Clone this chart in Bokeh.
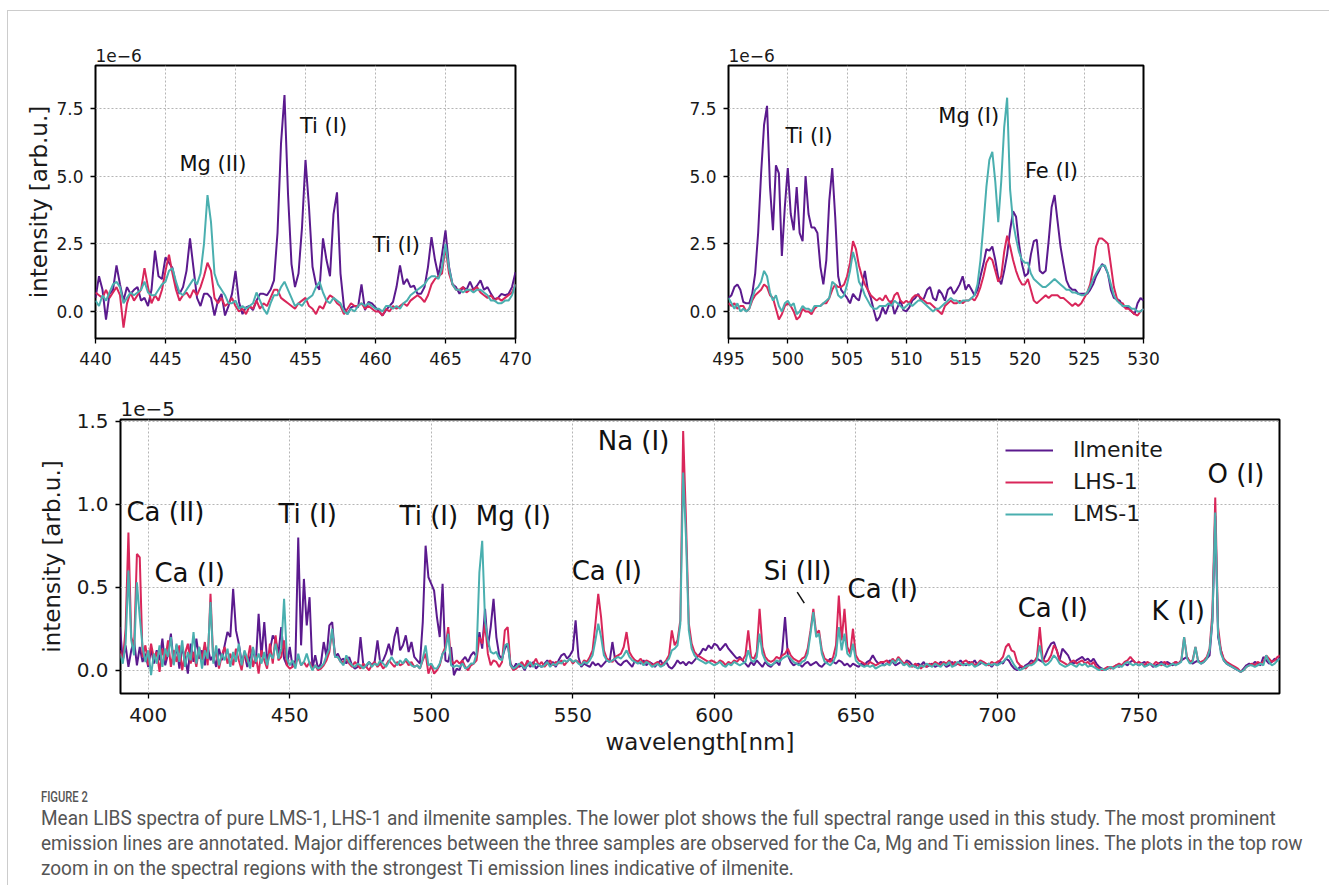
import numpy as np
from bokeh.plotting import figure
from bokeh.models import (ColumnDataSource, Label, Legend, LegendItem, FixedTicker,
                          PrintfTickFormatter, Range1d, Div, Arrow, Title, Spacer)
from bokeh.layouts import column, row
from bokeh.embed import file_html
from bokeh.resources import INLINE

FONT = "DejaVu Sans"
C_ILM = "#5b1a8e"
C_LHS = "#d9265a"
C_LMS = "#4aafaf"
SERIES = ["Ilmenite", "LHS-1", "LMS-1"]

# ---------------- top-left panel: 440-470 nm, step 0.25 nm, intensity in 1e-6 ----------------
TL_START, TL_STEP = 440.0, 0.25
TL_ILM = [
    0.5, 1.3, 0.8, -0.3,   0.65, 0.8, 1.7, 1.0,   0.4, 0.9, 0.65, 0.8,   0.9, 0.4, 0.5, 0.2,
    0.8, 2.25, 1.3, 1.2,   2.0, 1.8, 1.6, 1.0,   0.65, 0.9, 1.5, 2.7,   1.6, 0.5, 0.2, 0.65,
    0.65, 0.5, -0.15, 0.4, 0.65, -0.15, 0.2, 0.65, 1.5, 0.35, -0.1, 0.15, 0.2, 0.05, 0.4, 0.65,
    0.65, 0.6, 0.8, 1.15,  2.9, 6.2, 8.0, 4.35,  1.75, 0.9, 1.4, 3.1,   5.6, 3.85, 1.65, 1.0,
    0.8, 2.7, 1.9, 1.3,    3.6, 4.4, 1.4, 0.15,  -0.1, 0.15, 0.2, 0.15, 1.0, 0.05, 0.35, 0.3,
    0.15, 0.0, -0.15, 0.05, 0.2, 0.35, 0.9, 1.7, 1.0, 1.2, 0.9, 0.95,  0.65, 0.65, 0.9, 1.65,
    2.75, 1.9, 1.3, 2.1,   3.0, 1.65, 1.0, 0.9,  0.65, 0.9, 0.8, 1.1,  0.8, 0.95, 1.15, 0.8,
    0.9, 0.65, 0.45, 0.5,  0.65, 0.6, 0.65, 0.9, 1.45]
TL_LHS = [
    0.7, 0.6, 0.5, 0.8,   0.5, 0.7, 0.9, 0.6,   -0.6, 0.3, 0.7, 0.4,  0.6, 0.8, 1.6, 0.9,
    0.3, 0.6, 0.4, 0.8,   1.5, 2.1, 1.4, 0.8,   0.4, 0.6, 0.7, 0.5,   0.8, 0.6, 0.9, 1.3,
    1.8, 1.5, 0.5, 0.3,   0.5, 0.2, 0.3, 0.5,   0.2, 0.0, 0.1, -0.1,  0.2, 0.1, 0.4, 0.1,
    0.3, 0.2, 0.5, 0.8,   0.8, 0.5, 0.4, 0.3,   0.2, 0.1, 0.3, 0.4,   0.5, 0.2, 0.1, -0.1,
    0.2, 0.1, 0.4, 0.6,   0.5, 0.3, 0.2, -0.1,  0.1, 0.3, 0.2, 0.2,   0.3, 0.1, 0.2, 0.1,
    0.0, 0.0, -0.15, 0.1, 0.0, 0.2, 0.1, 0.2,   0.3, 0.2, 0.4, 0.5,   0.6, 0.5, 0.35, 0.6,
    1.0, 1.2, 1.3, 1.4,   2.4, 1.4, 1.0, 0.8,   0.8, 0.9, 0.7, 0.8,   0.8, 0.9, 0.7, 0.6,
    0.5, 0.6, 0.4, 0.5,   0.4, 0.5, 0.6, 0.7,   1.0]
TL_LMS = [
    0.4, 0.2, 0.6, 0.4,   0.7, 1.0, 1.1, 0.9,   0.3, 0.5, 0.7, 0.6,   0.7, 0.8, 1.1, 0.7,
    0.6, 0.6, 0.8, 1.0,   1.1, 1.5, 1.6, 1.1,   0.7, 0.6, 0.8, 1.0,   1.2, 1.0, 1.4, 2.5,
    4.3, 3.3, 1.4, 1.0,   0.8, 0.6, 0.3, 0.3,   0.4, 0.1, 0.2, 0.1,   0.2, 0.3, 0.7, 0.4,
    0.1, -0.1, 0.3, 0.6,  0.6, 0.9, 1.1, 0.8,   0.5, 0.2, 0.3, 0.2,   0.4, 0.5, 0.6, 0.9,
    1.1, 0.7, 0.4, 0.3,   0.5, 0.4, 0.3, 0.0,   -0.1, 0.1, 0.0, 0.2,  0.3, 0.2, 0.3, 0.2,
    0.1, 0.1, 0.0, 0.2,   0.2, 0.1, 0.2, 0.1,   0.3, 0.4, 0.6, 0.7,   0.8, 0.9, 1.0, 1.2,
    1.3, 1.3, 1.2, 1.6,   2.5, 1.6, 1.0, 0.8,   0.8, 0.7, 0.8, 0.8,   0.7, 0.8, 0.8, 0.7,
    0.6, 0.4, 0.4, 0.3,   0.3, 0.4, 0.4, 0.6,   1.0]

# ---------------- top-right panel: 495-530 nm, step 0.25 nm, intensity in 1e-6 ----------------
TR_START, TR_STEP = 495.0, 0.25
TR_ILM = [
    0.5, 0.6, 0.9, 1.0,   0.8, 0.35, 0.3, 0.3,  0.65, 1.4, 2.9, 5.1,  6.9, 7.6, 4.6, 3.0,
    5.4, 5.1, 2.05, 3.85, 5.3, 3.6, 3.0, 4.6,   2.9, 2.6, 5.0, 3.6,   3.1, 3.1, 2.9, 1.65,
    1.0, 1.9, 4.1, 5.3,   3.5, 1.3, 0.8, 0.65,  0.5, 0.3, 0.65, 0.5,  0.4, 0.9, 1.5, 0.8,
    0.5, 0.05, -0.35, -0.2, 0.15, -0.1, 0.2, 0.4, -0.1, 0.15, 0.4, 0.05, 0.0, 0.15, 0.4, 0.5,
    0.65, 0.4, 0.5, 0.8,  0.9, 0.5, 0.4, 0.8,   0.65, 0.4, 0.8, 0.9,  0.65, 0.8, 1.0, 1.3,
    0.8, 1.0, 0.8, 0.6,   0.8, 1.3, 1.75, 2.3,  2.25, 2.4, 1.9, 1.25, 1.0, 1.5, 2.1, 3.0,
    3.7, 3.5, 2.5, 1.75,  1.3, 1.4, 2.1, 2.6,   2.65, 1.5, 1.4, 1.5,  2.6, 3.85, 4.3, 3.35,
    2.4, 1.75, 1.15, 0.9, 0.8, 0.8, 0.65, 0.65, 0.65, 0.65, 0.8, 1.0, 1.3, 1.5, 1.75, 1.65,
    1.4, 0.8, 0.5, 0.45,  0.4, 0.2, 0.15, 0.15, 0.0, -0.1, 0.3, 0.5,  0.4]
TR_LHS = [
    0.3, 0.2, 0.3, 0.1,   0.2, 0.2, 0.0, 0.1,   0.4, 0.6, 0.7, 0.8,   1.0, 0.9, 0.6, 0.5,
    0.1, -0.3, -0.1, 0.2, 0.3, 0.2, 0.0, -0.3,  -0.2, 0.1, 0.0, 0.0,  -0.1, 0.1, 0.2, 0.2,
    0.3, 0.3, 0.5, 0.8,   1.0, 0.9, 0.9, 1.0,   1.3, 1.8, 2.6, 2.3,   1.7, 1.3, 1.0, 0.8,
    0.6, 0.5, 0.4, 0.5,   0.4, 0.6, 0.4, 0.3,   0.6, 0.7, 0.4, 0.3,   0.4, 0.3, 0.5, 0.6,
    0.6, 0.5, 0.4, 0.3,   0.3, 0.2, 0.1, 0.0,   -0.1, 0.2, 0.3, 0.4,  0.3, 0.3, 0.4, 0.3,
    0.4, 0.4, 0.5, 0.4,   0.6, 0.9, 1.3, 1.8,   2.0, 1.9, 1.5, 1.1,   1.3, 2.2, 2.8, 2.4,
    1.9, 1.5, 1.2, 1.0,   1.0, 1.2, 0.8, 0.4,   0.3, 0.4, 0.5, 0.6,   0.5, 0.6, 0.6, 0.6,
    0.5, 0.5, 0.4, 0.3,   0.2, 0.3, 0.2, 0.3,   0.5, 0.7, 1.0, 1.6,   2.4, 2.7, 2.7, 2.6,
    2.5, 1.7, 0.9, 0.5,   0.3, 0.3, 0.1, 0.1,   0.0, -0.1, -0.15, 0.0, 0.1]
TR_LMS = [
    0.5, 0.3, 0.1, 0.3,   0.0, 0.1, 0.0, 0.1,   0.5, 0.8, 0.9, 1.1,   1.5, 1.3, 0.7, 0.4,
    0.6, 0.2, 0.0, 0.3,   0.4, 0.2, 0.3, -0.1,  0.0, 0.2, 0.1, 0.1,   0.0, 0.2, 0.2, 0.2,
    0.3, 0.4, 0.5, 1.1,   1.0, 0.6, 0.5, 0.6,   1.0, 1.5, 2.2, 1.8,   1.1, 0.9, 0.6, 0.4,
    0.2, 0.1, 0.1, 0.2,   0.2, 0.2, 0.3, 0.2,   0.4, 0.3, 0.2, 0.1,   0.2, 0.3, 0.2, 0.3,
    0.4, 0.4, 0.3, 0.2,   0.1, 0.0, 0.1, 0.1,   0.2, 0.3, 0.4, 0.5,   0.4, 0.4, 0.3, 0.4,
    0.4, 0.4, 0.5, 0.6,   1.0, 1.9, 3.2, 4.6,   5.6, 5.9, 4.8, 3.3,   4.8, 6.8, 7.9, 4.5,
    3.3, 2.7, 2.2, 1.9,   1.8, 1.8, 1.4, 1.2,   1.1, 1.0, 0.9, 0.9,   1.0, 1.1, 1.2, 1.1,
    1.0, 0.9, 0.8, 0.8,   0.7, 0.7, 0.65, 0.6,  0.6, 0.7, 0.9, 1.2,   1.4, 1.6, 1.7, 1.7,
    1.4, 1.0, 0.6, 0.4,   0.3, 0.2, 0.2, 0.2,   0.1, 0.1, 0.0, 0.0,   0.1]

# ---------------- bottom panel: 390-800 nm, step 1 nm, intensity in 1e-6 ----------------
B_START, B_STEP = 390.0, 1.0
B_ILM = [
    2.6, 0.6, 1.5, 0.2, 1.2, 1.8, 0.3, 1.4, 0.5, 1.0,
    0.2, 1.3, 0.4, 1.2, 0.6, 1.9, 0.3, 1.0, 2.2, 0.4,
    1.5, 0.1, 1.3, 0.8, -0.2, 1.6, 0.5, 1.9, 0.7, 1.2,
    0.3, 1.4, 0.6, 0.9, 0.2, 1.3, 0.6, 1.5, 2.3, 2.0,
    4.9, 2.4, 1.6, 0.5, 1.0, 0.2, 0.8, 1.3, 0.4, 3.4,
    0.8, 2.9, 0.6, 1.2, 2.1, 1.8, 1.0, 2.6, 0.7, 0.3,
    1.4, 0.2, 0.6, 8.0, 1.5, 5.5, 2.7, 4.4, 0.1, 0.9,
    0.1, 0.4, 1.7, 0.8, 2.7, 2.9, 0.8, 1.0, 0.6, 0.7,
    0.4, 0.8, 0.3, 0.1, 0.2, 2.0, 0.3, 0.2, 0.5, 0.3,
    0.5, 1.8, 0.4, 0.6, 1.0, 1.6, 0.9, 2.0, 2.6, 1.2,
    1.5, 2.1, 1.1, 1.7, 0.8, 0.6, 0.4, 2.9, 7.5, 5.6,
    5.2, 4.8, 3.2, 2.0, 5.2, 0.6, 0.5, 1.4, -0.3, 0.1,
    0.0, 0.6, 0.8, 0.5, 0.9, 1.1, 0.8, 2.3, 1.3, 3.7,
    1.4, 2.6, 4.3, 2.0, 0.9, 0.7, 1.3, 1.6, 0.4, 0.1,
    0.4, 0.2, 0.3, 0.0, 0.4, 0.2, 0.5, 0.1, 0.3, 0.2,
    0.4, 0.6, 0.3, 0.5, 0.2, 0.6, 0.9, 1.0, 0.7, 0.9,
    1.2, 3.0, 0.8, 0.2, 0.4, 0.3, 0.2, 0.5, 0.3, 0.4,
    0.2, 0.4, 0.6, 0.5, 1.7, 0.6, 0.4, 0.3, 0.5, 0.6,
    0.4, 0.2, 0.6, 0.5, 0.4, 0.6, 0.3, 0.5, 0.4, 0.2,
    0.4, 0.6, 0.3, 0.5, 0.2, 0.1, 0.3, 0.6, 0.4, 0.5,
    0.3, 0.5, 0.4, 0.6, 0.8, 1.0, 1.3, 1.2, 1.5, 1.3,
    1.6, 1.5, 1.2, 1.4, 1.6, 1.3, 1.1, 0.9, 0.7, 0.8,
    0.6, 0.4, 0.2, 0.5, 0.3, 0.6, 0.4, 0.2, 0.5, 0.3,
    0.2, 0.4, 0.5, 0.3, 1.2, 3.2, 0.9, 0.5, 0.3, 0.4,
    0.4, 0.2, 0.4, 0.5, 0.3, 0.4, 0.5, 0.3, 0.2, 0.4,
    0.5, 0.7, 0.5, 0.4, 0.6, 0.5, 0.3, 0.4, 0.2, 0.4,
    0.3, 0.2, 0.4, 0.3, 0.5, 0.6, 0.9, 0.6, 0.4, 0.5,
    0.3, 0.4, 0.6, 0.5, 0.3, 0.4, 0.5, 0.3, 0.6, 0.5,
    0.3, 0.2, 0.4, 0.3, 0.5, 0.2, 0.3, 0.4, 0.2, 0.3,
    0.5, 0.4, 0.2, 0.3, 0.5, 0.3, 0.4, 0.6, 0.4, 0.3,
    0.5, 0.4, 0.6, 0.3, 0.4, 0.5, 0.3, 0.4, 0.2, 0.4,
    0.3, 0.5, 0.4, 0.7, 0.6, 0.3, 0.1, 0.0, 0.2, 0.1,
    0.3, 0.4, 0.6, 0.5, 0.7, 0.6, 0.5, 0.9, 1.3, 1.6,
    1.7, 1.2, 0.6, 1.3, 1.1, 0.9, 0.5, 0.4, 0.6, 0.7,
    0.8, 0.6, 0.7, 0.5, 0.7, 0.4, 0.2, 0.1, 0.0, 0.1,
    0.2, 0.1, 0.3, 0.2, 0.3, 0.4, 0.3, 0.5, 0.6, 0.4,
    0.3, 0.4, 0.5, 0.3, 0.4, 0.2, 0.3, 0.4, 0.5, 0.3,
    0.5, 0.4, 0.3, 0.5, 0.4, 0.6, 0.7, 0.8, 0.5, 0.4,
    0.5, 0.6, 0.4, 0.5, 0.7, 0.9, 3.0, 9.3, 2.0, 1.2,
    0.6, 0.4, 0.3, 0.2, 0.1, 0.0, -0.1, 0.1, 0.3, 0.4,
    0.3, 0.5, 0.4, 0.3, 0.8, 0.6, 0.4, 0.5, 0.7, 0.6,
    0.8]
B_LHS = [
    1.2, 0.5, 2.5, 8.3, 2.0, 1.4, 7.0, 6.8, 0.8, 1.5,
    0.3, 1.6, 0.7, 1.1, -0.1, 1.3, 0.6, 1.8, 0.2, 1.2,
    0.5, 1.5, 0.0, 1.0, 1.6, 0.4, 1.1, 0.2, 1.4, 0.6,
    1.7, 0.3, 4.6, 0.5, 1.2, 0.1, 0.9, 1.4, 0.4, 1.0,
    0.3, 1.3, 0.6, 0.0, 1.1, 0.5, 1.5, 0.2, 0.9, -0.2,
    1.2, 0.6, 0.1, 1.6, 0.4, 2.1, 0.6, 0.8, 1.8, 0.3,
    0.1, 0.2, 0.4, 0.8, 0.3, 0.5, 0.2, 0.5, 0.1, 0.3,
    0.0, 0.1, 0.3, 0.6, 1.1, 2.4, 0.8, 0.8, 0.5, 0.5,
    0.7, 0.4, 0.2, 0.5, 0.3, 0.1, 0.4, 0.2, 0.0, 0.3,
    0.5, 0.2, 0.4, 0.1, 0.3, 0.6, 0.4, 0.2, 0.5, 0.3,
    0.4, 0.6, 0.3, 0.5, 0.2, 0.3, 0.1, 0.6, 1.0, -0.2,
    0.3, -0.2, 0.0, 0.3, 1.0, 1.4, 2.6, 0.6, 0.4, 0.6,
    0.4, 0.6, 0.2, 0.0, 0.3, 0.4, 0.6, 2.0, 1.6, 2.8,
    1.0, 0.3, 0.6, 0.5, 0.2, 0.5, 2.4, 2.6, 0.3, 0.0,
    0.1, 0.3, 0.5, 0.2, 0.6, 0.3, 0.4, 0.7, 0.3, 0.5,
    0.2, 0.4, 0.6, 0.3, 0.5, 0.4, 0.6, 0.3, 0.5, 0.7,
    0.4, 0.6, 0.5, 0.3, 0.6, 0.5, 0.8, 1.2, 2.8, 4.6,
    3.2, 1.2, 0.7, 0.6, 0.5, 0.8, 0.9, 1.0, 1.4, 2.3,
    1.1, 0.8, 0.6, 0.5, 0.7, 0.4, 0.6, 0.5, 0.3, 0.4,
    0.5, 0.3, 0.4, 0.6, 0.9, 2.4, 1.5, 1.8, 3.0, 14.4,
    9.0, 2.8, 1.6, 1.1, 0.9, 0.8, 0.7, 0.6, 0.5, 0.6,
    0.5, 0.4, 0.6, 0.5, 0.3, 0.5, 0.4, 0.6, 0.5, 0.7,
    0.6, 0.9, 2.4, 0.8, 0.7, 1.1, 3.7, 1.4, 0.8, 0.6,
    0.5, 0.6, 0.8, 0.7, 0.9, 1.0, 1.3, 0.9, 0.7, 0.6,
    0.5, 0.7, 0.8, 1.3, 2.4, 3.7, 2.2, 2.4, 1.2, 0.7,
    0.6, 0.5, 0.8, 1.5, 4.5, 1.8, 3.7, 1.4, 1.0, 2.5,
    0.9, 0.6, 0.5, 0.4, 0.3, 0.5, 0.4, 0.3, 0.4, 0.5,
    0.5, 0.6, 0.4, 0.7, 0.5, 0.8, 0.6, 0.4, 0.5, 0.3,
    0.2, 0.4, 0.3, 0.1, 0.3, 0.2, 0.4, 0.3, 0.5, 0.4,
    0.3, 0.5, 0.4, 0.6, 0.3, 0.5, 0.4, 0.3, 0.5, 0.6,
    0.4, 0.5, 0.3, 0.4, 0.6, 0.5, 0.4, 0.3, 0.5, 0.4,
    0.5, 0.6, 0.8, 1.4, 1.6, 1.2, 1.1, 0.5, 0.3, 0.2,
    0.1, 0.3, 0.4, 0.5, 0.8, 2.6, 0.7, 0.5, 0.6, 0.9,
    1.5, 1.2, 0.6, 0.5, 0.4, 0.3, 0.5, 0.6, 0.4, 0.5,
    0.6, 0.4, 0.5, 0.3, 0.5, 0.2, 0.1, 0.0, 0.1, 0.2,
    0.1, 0.2, 0.3, 0.4, 0.3, 0.5, 0.6, 0.8, 0.6, 0.4,
    0.5, 0.4, 0.3, 0.5, 0.4, 0.3, 0.5, 0.4, 0.3, 0.5,
    0.4, 0.3, 0.4, 0.5, 0.4, 0.6, 2.0, 0.8, 0.5, 0.6,
    1.4, 0.5, 0.5, 0.6, 0.8, 1.3, 3.5, 10.4, 2.6, 1.2,
    0.7, 0.5, 0.4, 0.3, 0.2, 0.1, -0.1, 0.0, 0.2, 0.3,
    0.4, 0.3, 0.5, 0.4, 0.5, 0.9, 0.7, 0.5, 0.6, 0.8,
    0.9]
B_LMS = [
    1.0, 0.4, 1.6, 6.0, 1.8, 0.9, 5.3, 3.2, 1.4, 0.5,
    1.2, -0.3, 1.0, 0.4, 1.5, 0.2, 1.3, 0.8, 2.0, 0.3,
    1.6, 0.5, 1.8, 0.2, 1.1, 0.6, 2.3, 0.4, 1.4, 0.1,
    1.2, 0.7, 4.1, 0.4, 1.5, 0.3, 1.0, 0.6, 1.3, 0.2,
    1.1, 0.5, 1.6, 0.3, 1.2, 0.7, 0.1, 1.4, 0.5, 1.0,
    0.4, 1.1, 0.3, 1.0, 0.7, 1.6, 0.7, 1.3, 4.3, 0.7,
    0.3, 0.6, 0.1, 1.0, 0.3, 0.5, 1.0, 0.4, 0.0, 0.3,
    0.1, 0.2, 0.4, 0.9, 1.3, 2.5, 0.8, 0.8, 0.5, 0.3,
    0.9, 0.5, 0.3, 0.2, 0.4, 0.3, 0.1, 0.3, 0.5, 0.2,
    0.4, 0.3, 0.6, 0.4, 0.2, 0.5, 0.8, 0.5, 0.3, 0.6,
    0.4, 0.7, 0.5, 0.3, 0.2, 0.3, 0.1, 0.7, 1.5, 0.3,
    0.4, 0.1, 0.1, 0.4, 1.0, 1.2, 2.2, 0.3, 0.2, 0.3,
    0.2, 0.4, 0.1, 0.2, 0.4, 0.4, 1.0, 5.9, 7.8, 3.0,
    1.8, 1.1, 1.0, 1.1, 0.7, 0.6, 1.5, 1.6, 0.3, 0.1,
    0.2, 0.4, 0.3, 0.1, 0.3, 0.5, 0.2, 0.4, 0.3, 0.2,
    0.3, 0.5, 0.2, 0.4, 0.3, 0.5, 0.4, 0.6, 0.5, 0.7,
    0.5, 0.6, 0.4, 0.3, 0.5, 0.4, 0.6, 0.9, 1.8, 2.8,
    2.0, 0.9, 0.6, 0.5, 0.6, 0.7, 0.8, 0.7, 0.9, 1.2,
    0.8, 0.6, 0.5, 0.4, 0.5, 0.3, 0.5, 0.4, 0.2, 0.3,
    0.4, 0.2, 0.3, 0.5, 0.7, 1.2, 1.3, 1.5, 2.8, 11.9,
    8.0, 2.4, 1.3, 0.9, 0.7, 0.6, 0.5, 0.4, 0.5, 0.4,
    0.3, 0.4, 0.5, 0.3, 0.2, 0.4, 0.3, 0.5, 0.4, 0.3,
    0.4, 0.5, 1.2, 0.6, 0.5, 0.8, 2.2, 1.0, 0.6, 0.4,
    0.3, 0.4, 0.6, 0.5, 0.7, 0.8, 0.9, 0.7, 0.5, 0.4,
    0.3, 0.5, 0.6, 1.0, 2.2, 3.5, 2.0, 2.2, 1.0, 0.5,
    0.4, 0.3, 0.5, 0.9, 2.6, 1.2, 2.2, 1.0, 0.8, 1.6,
    0.6, 0.4, 0.3, 0.2, 0.3, 0.2, 0.3, 0.1, 0.2, 0.3,
    0.3, 0.4, 0.3, 0.6, 0.4, 0.7, 0.5, 0.3, 0.4, 0.2,
    0.3, 0.2, 0.1, 0.3, 0.2, 0.4, 0.3, 0.2, 0.4, 0.3,
    0.2, 0.4, 0.3, 0.5, 0.2, 0.3, 0.5, 0.4, 0.3, 0.4,
    0.3, 0.4, 0.2, 0.3, 0.5, 0.4, 0.3, 0.4, 0.3, 0.4,
    0.3, 0.4, 0.5, 0.7, 0.9, 0.6, 0.3, 0.1, 0.0, 0.1,
    0.2, 0.3, 0.3, 0.4, 0.6, 1.5, 0.5, 0.3, 0.4, 0.6,
    0.9, 0.7, 0.4, 0.3, 0.2, 0.3, 0.4, 0.3, 0.2, 0.4,
    0.3, 0.4, 0.2, 0.3, 0.2, 0.1, 0.0, 0.1, 0.0, 0.1,
    0.2, 0.1, 0.2, 0.3, 0.2, 0.4, 0.5, 0.4, 0.3, 0.4,
    0.3, 0.4, 0.2, 0.3, 0.4, 0.3, 0.2, 0.3, 0.4, 0.3,
    0.2, 0.3, 0.4, 0.3, 0.4, 0.5, 2.0, 0.7, 0.4, 0.5,
    1.4, 0.5, 0.4, 0.5, 0.7, 1.2, 3.0, 9.5, 2.2, 1.0,
    0.6, 0.4, 0.3, 0.2, 0.1, 0.0, -0.1, 0.0, 0.2, 0.3,
    0.3, 0.2, 0.3, 0.4, 0.3, 0.9, 0.5, 0.3, 0.4, 0.6,
    0.7]

# tick labels
TL_XTICKS = [440, 445, 450, 455, 460, 465, 470]
TR_XTICKS = [495, 500, 505, 510, 515, 520, 525, 530]
TOP_YTICKS = [0.0, 2.5, 5.0, 7.5]
B_XTICKS = [400, 450, 500, 550, 600, 650, 700, 750]
B_YTICKS = [0.0, 0.5, 1.0, 1.5]

CAPTION_TITLE = "FIGURE 2"
CAPTION_LINES = [
    "Mean LIBS spectra of pure LMS-1, LHS-1 and ilmenite samples. The lower plot shows the full spectral range used in this study. The most prominent",
    "emission lines are annotated. Major differences between the three samples are observed for the Ca, Mg and Ti emission lines. The plots in the top row",
    "zoom in on the spectral regions with the strongest Ti emission lines indicative of ilmenite.",
]


def grid_x(start, step, n):
    return start + step * np.arange(n)


def style(p, tick_size, x_std, x_lab_std, y_lab_std):
    p.outline_line_color = "black"
    p.outline_line_width = 2
    p.background_fill_color = "white"
    p.border_fill_color = "white"
    for ax in list(p.xaxis) + list(p.yaxis):
        ax.axis_line_color = None
        ax.major_tick_line_color = "black"
        ax.major_tick_line_width = 1.3
        ax.major_tick_out = 5
        ax.major_tick_in = 0
        ax.minor_tick_line_color = None
        ax.major_label_text_font = FONT
        ax.major_label_text_font_size = tick_size
        ax.major_label_text_color = "#1a1a1a"
        ax.axis_label_text_font = FONT
        ax.axis_label_text_font_style = "normal"
        ax.axis_label_text_font_size = "23px"
        ax.axis_label_text_color = "#1a1a1a"
    for ax in p.xaxis:
        ax.major_label_standoff = x_std
        ax.axis_label_standoff = x_lab_std
    for ax in p.yaxis:
        ax.major_label_standoff = 7
        ax.axis_label_standoff = y_lab_std
    p.grid.grid_line_color = "#b5b5b5"
    p.grid.grid_line_dash = "2 2"
    p.grid.grid_line_width = 1


def add_lines(p, x, ys, width, scale=1.0):
    rs = []
    for y, c in zip(ys, [C_ILM, C_LHS, C_LMS]):
        src = ColumnDataSource(dict(x=x[:len(y)], y=np.array(y) * scale))
        rs.append(p.line("x", "y", source=src, line_color=c, line_width=width))
    return rs


def note(p, x, y, text, size):
    p.add_layout(Label(x=x, y=y, y_offset=9, text=text, text_font=FONT, text_font_size=size,
                       text_color="#111111", text_align="left", text_baseline="alphabetic"))


def offset_title(p, text, size):
    p.add_layout(Title(text=text, align="left", text_font=FONT, text_font_size=size,
                       text_font_style="normal", text_color="#1a1a1a", standoff=7), "above")


# ---------------- top-left ----------------
p1 = figure(width=592, height=374, x_range=Range1d(440, 470), y_range=Range1d(-1.0, 9.09),
            output_backend="svg", toolbar_location=None,
            min_border_left=87, min_border_right=85, min_border_top=54, min_border_bottom=47)
style(p1, "17px", 8, 4, 1)
p1.xaxis.ticker = FixedTicker(ticks=TL_XTICKS)
p1.yaxis.ticker = FixedTicker(ticks=TOP_YTICKS)
p1.yaxis.formatter = PrintfTickFormatter(format="%.1f")
p1.yaxis.axis_label = "intensity [arb.u.]"
add_lines(p1, grid_x(TL_START, TL_STEP, len(TL_ILM)), [TL_ILM, TL_LHS, TL_LMS], 2)
offset_title(p1, "1e\u22126", "17px")
note(p1, 446.0, 5.10, "Mg (II)", "21px")
note(p1, 454.6, 6.51, "Ti (I)", "21px")
note(p1, 459.8, 2.14, "Ti (I)", "21px")

# ---------------- top-right ----------------
p2 = figure(width=721, height=374, x_range=Range1d(495, 530), y_range=Range1d(-1.0, 9.09),
            output_backend="svg", toolbar_location=None,
            min_border_left=128, min_border_right=178, min_border_top=54, min_border_bottom=47)
style(p2, "17px", 8, 4, 1)
p2.xaxis.ticker = FixedTicker(ticks=TR_XTICKS)
p2.yaxis.ticker = FixedTicker(ticks=TOP_YTICKS)
p2.yaxis.formatter = PrintfTickFormatter(format="%.1f")
add_lines(p2, grid_x(TR_START, TR_STEP, len(TR_ILM)), [TR_ILM, TR_LHS, TR_LMS], 2)
offset_title(p2, "1e\u22126", "17px")
note(p2, 499.8, 6.14, "Ti (I)", "21px")
note(p2, 512.7, 6.88, "Mg (I)", "21px")
note(p2, 520.0, 4.84, "Fe (I)", "21px")

# ---------------- bottom ----------------
p3 = figure(width=1313, height=380, x_range=Range1d(390.2, 799.7), y_range=Range1d(-0.14, 1.51),
            output_backend="svg", toolbar_location=None,
            min_border_left=112, min_border_right=42, min_border_top=34, min_border_bottom=72)
style(p3, "20px", 9, 4, 9)
p3.xaxis.ticker = FixedTicker(ticks=B_XTICKS)
p3.yaxis.ticker = FixedTicker(ticks=B_YTICKS)
p3.yaxis.formatter = PrintfTickFormatter(format="%.1f")
p3.yaxis.axis_label = "intensity [arb.u.]"
p3.xaxis.axis_label = "wavelength[nm]"
rs = add_lines(p3, grid_x(B_START, B_STEP, len(B_ILM)), [B_ILM, B_LHS, B_LMS], 2, scale=0.1)
offset_title(p3, "1e\u22125", "20px")
note(p3, 392.3, 0.898, "Ca (II)", "26px")
note(p3, 402.2, 0.530, "Ca (I)", "26px")
note(p3, 446.0, 0.886, "Ti (I)", "26px")
note(p3, 488.8, 0.873, "Ti (I)", "26px")
note(p3, 515.7, 0.873, "Mg (I)", "26px")
note(p3, 549.6, 0.542, "Ca (I)", "26px")
note(p3, 558.8, 1.325, "Na (I)", "26px")
note(p3, 617.5, 0.542, "Si (II)", "26px")
note(p3, 647.1, 0.434, "Ca (I)", "26px")
note(p3, 707.2, 0.319, "Ca (I)", "26px")
note(p3, 754.5, 0.301, "K (I)", "26px")
note(p3, 774.3, 1.127, "O (I)", "26px")
p3.add_layout(Arrow(end=None, x_start=629.3, y_start=0.470, x_end=631.8, y_end=0.404,
                    line_color="#111111", line_width=1.5))

legend = Legend(items=[LegendItem(label=s, renderers=[r]) for s, r in zip(SERIES, rs)],
                location=(885, 167), background_fill_alpha=0, border_line_alpha=0,
                padding=0, margin=0, spacing=7, glyph_width=48, glyph_height=20,
                label_height=20, label_standoff=20, label_text_font=FONT,
                label_text_font_size="22px", label_text_color="#1a1a1a")
p3.add_layout(legend)

# ---------------- caption ----------------
CAP_FONT = "font-family:Roboto,'Noto Sans',sans-serif;white-space:nowrap;transform-origin:left center;color:#555555;"
cap_html = (
    '<div style="position:relative;width:1313px;height:110px;">'
    '<div style="position:absolute;left:28px;top:19px;font-size:14px;line-height:16px;font-weight:500;'
    'transform:scaleX(0.8);' + CAP_FONT + '">' + CAPTION_TITLE + '</div>'
    + ''.join(
        '<div style="position:absolute;left:28px;top:%dpx;font-size:21px;line-height:25px;'
        'transform:scaleX(0.905);%s">%s</div>' % (36 + 25 * i, CAP_FONT, t)
        for i, t in enumerate(CAPTION_LINES))
    + '</div>'
)
cap = Div(text=cap_html, width=1313, height=110)

inner = column(row(p1, p2), p3, cap,
               styles={"border-left": "1px solid #cccccc", "border-top": "1px solid #cccccc"})
layout = column(Spacer(width=1321, height=10), row(Spacer(width=7, height=10), inner))

open("out.html", "w").write(file_html(layout, INLINE))
